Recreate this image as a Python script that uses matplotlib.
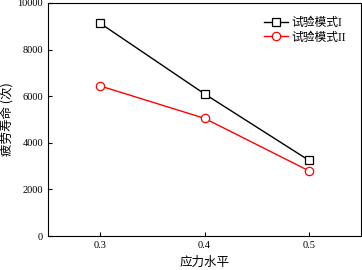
import matplotlib
matplotlib.use("Agg")
import matplotlib.pyplot as plt

plt.rcParams['font.family'] = ['Liberation Serif', 'Noto Sans CJK SC']

stress = [0.3, 0.4, 0.5]
mode1 = [9130, 6100, 3250]
mode2 = [6440, 5050, 2800]
xticks = [0.3, 0.4, 0.5]
xticklabels = ['0.3', '0.4', '0.5']
yticks = [0, 2000, 4000, 6000, 8000, 10000]

fig = plt.figure(figsize=(3.62, 2.70), dpi=100)
ax = fig.add_axes([48/362, 1-236/270, (361-48)/362, (236-3)/270])

ax.plot(stress, mode1, color='black', lw=1.0, marker='s', ms=5.5,
        mfc='white', mec='black', mew=0.9, label='试验模式I')
ax.plot(stress, mode2, color='red', lw=1.0, marker='o', ms=6,
        mfc='white', mec='red', mew=0.9, label='试验模式II')

ax.set_xlim(0.25, 0.55)
ax.set_ylim(0, 10000)
ax.set_xticks(xticks)
ax.set_xticklabels(xticklabels)
ax.set_yticks(yticks)
ax.tick_params(direction='in', labelsize=7.5, length=3, width=0.8)
for s in ax.spines.values():
    s.set_linewidth(0.8)

ax.set_xlabel('应力水平', fontsize=9, family=['Noto Sans CJK SC'], labelpad=4)
ax.set_ylabel('疲劳寿命 (次)', fontsize=9, family=['Noto Sans CJK SC'], labelpad=3)

leg = ax.legend(loc='upper right', frameon=False,
                prop={'family': ['Liberation Serif', 'Noto Sans CJK SC'], 'size': 8.5},
                handlelength=2.0, handletextpad=0.3, borderaxespad=0.6,
                labelspacing=0.2, bbox_to_anchor=(0.99, 0.99))

fig.savefig('out.png', dpi=100)
